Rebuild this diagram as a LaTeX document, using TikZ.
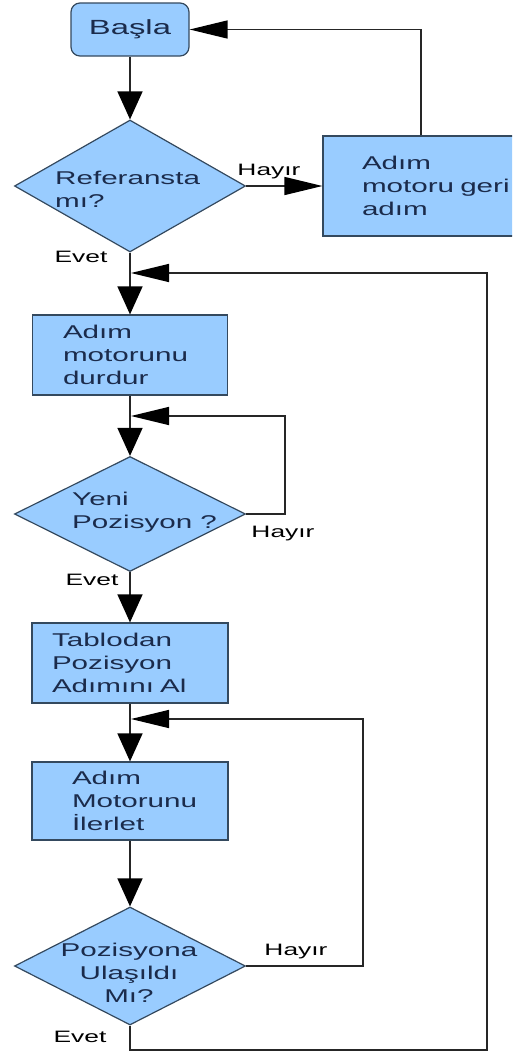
\documentclass[tikz,border=0pt]{standalone}
\usepackage{fontspec}
\setmainfont{Liberation Sans}[FakeStretch=1.6]
\usetikzlibrary{arrows.meta,shapes.geometric}
\definecolor{boxblue}{HTML}{99CCFF}
\definecolor{boxline}{HTML}{34495E}
\definecolor{txtnavy}{HTML}{1B2B4B}
\definecolor{wire}{HTML}{262626}
\hyphenpenalty=10000
\tikzset{
  box/.style={draw=boxline, fill=boxblue, line width=1.2pt, text=txtnavy, align=left,
              inner sep=0pt, font=\fontsize{18.5}{23}\selectfont},
  startbox/.style={box, rounded corners=9pt, align=center, minimum width=118pt,
              minimum height=53pt, font=\fontsize{20.5}{24}\selectfont},
  stepbox/.style={box, minimum width=196pt, minimum height=80pt},
  dec/.style={diamond, draw=boxline, fill=boxblue, line width=1.2pt, inner sep=0pt,
              minimum width=231pt},
  qtext/.style={text=txtnavy, align=left, inner sep=0pt, font=\fontsize{18.5}{23}\selectfont},
  lab/.style={font=\fontsize{16.5}{20}\selectfont, inner sep=0pt, anchor=base},
  varr/.style={-{Triangle[length=28pt,width=25pt,color=black]}, line width=1.4pt, draw=wire},
  harr/.style={-{Triangle[length=38pt,width=18pt,color=black]}, line width=1.4pt, draw=wire},
}

\begin{document}
\begin{tikzpicture}[x=1pt, y=-1pt]
  \useasboundingbox (0,0) rectangle (512,1055);
  \clip (0,0) rectangle (512,1055);
  \fill[white] (0,0) rectangle (512,1055);

  % main column
  \node[startbox] (start) at (130,29.5) {Başla};
  \node[dec, minimum height=132pt] (d1) at (130,186) {};
  \node[qtext, anchor=west] (d1t) at (55,189) {Referansta\\mı?};
  \node[stepbox, minimum height=100pt, text width=118pt] (back) at (421,186) {Adım\\motoru~geri\\adım};
  \node[stepbox, minimum width=195pt, text width=134pt] (stop) at (130,355) {Adım\\motorunu\\durdur};
  \node[dec, minimum height=115pt] (d2) at (130,514) {};
  \node[qtext, anchor=west] (d2t) at (72,512) {Yeni\\Pozisyon ?};
  \node[stepbox, text width=156pt] (table) at (130,663) {Tablodan\\Pozisyon\\Adımını Al};
  \node[stepbox, minimum height=78pt, text width=116pt] (fwd) at (130,801) {Adım\\Motorunu\\İlerlet};
  \node[dec, minimum height=118pt] (d3) at (130,966) {};
  \node[qtext, align=center] (d3t) at (129,973) {Pozisyona\\Ulaşıldı\\Mı?};

  % joints of the loops
  \coordinate (j1) at (131,273);
  \coordinate (j2) at (131,416);
  \coordinate (k2) at (285,416);
  \coordinate (j3) at (131,719);
  \coordinate (k3) at (363,719);
  \coordinate (k4) at (487,1050);

  \draw[varr] (start) -- (d1);
  \draw[harr] (d1.east) -- (back.west);
  \draw[harr] (back.north) |- (start.east);
  \draw[varr] (d1) -- (stop);
  \draw[varr] (stop) -- (d2);
  \draw[varr] (d2) -- (table);
  \draw[varr] (table) -- (fwd);
  \draw[varr] (fwd) -- (d3);
  \draw[harr] (d2.east) -| (k2) -- (j2);
  \draw[harr] (d3.east) -| (k3) -- (j3);
  \draw[harr] (d3.south) |- (k4) |- (j1);

  \node[lab] (h1) at (269,175) {Hayır};
  \node[lab] (e1) at (81,262) {Evet};
  \node[lab] (h2) at (283,537) {Hayır};
  \node[lab] (e2) at (92,585) {Evet};
  \node[lab] (h3) at (296,955) {Hayır};
  \node[lab] (e3) at (80,1042) {Evet};
\end{tikzpicture}
\end{document}
